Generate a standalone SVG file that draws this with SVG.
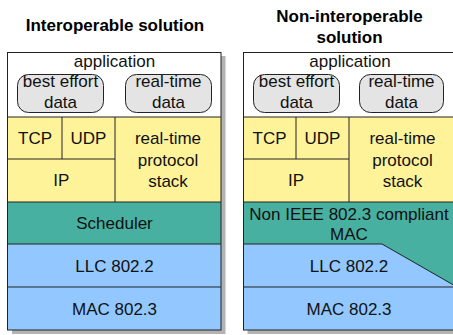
<svg xmlns="http://www.w3.org/2000/svg" width="453" height="335" viewBox="0 0 453 335">
<style>
.t{font-family:"Liberation Sans",Arial,sans-serif;font-size:17px;fill:#111;text-anchor:middle}
.h{font-family:"Liberation Sans",Arial,sans-serif;font-size:17px;font-weight:bold;fill:#000;text-anchor:middle}
.ln{stroke:#222;stroke-width:1;fill:none}
.app{fill:#fff}
.yl{fill:#fff39a}
.tl{fill:#48b0a0}
.bl{fill:#92c8ff}
.rb{fill:#e4e4e4;stroke:#222;stroke-width:1}
.sh{fill:#b3b3b3}
</style>
<rect width="453" height="335" fill="#fff"/>
<text class="h" x="115" y="31">Interoperable solution</text>
<text class="h" x="349.5" y="22">Non-interoperable</text>
<text class="h" x="349.5" y="43">solution</text>

<g id="left-stack">
<rect class="sh" x="12" y="56" width="213.5" height="278"/>
<rect class="app" x="7.5" y="52.5" width="213.5" height="64.5"/>
<rect class="yl" x="7.5" y="117" width="213.5" height="85"/>
<rect class="tl" x="7.5" y="202" width="213.5" height="42"/>
<rect class="bl" x="7.5" y="244" width="213.5" height="86"/>
<path class="ln" d="M7.5 117H221M62 117V159M115 117V202M7.5 159H115M7.5 202H221M7.5 244H221M7.5 287H221"/>
<rect class="ln" x="7.5" y="52.5" width="213.5" height="277.5"/>
<text class="t" x="114.5" y="67">application</text>
<g id="l-best"><rect class="rb" x="17.5" y="74.5" width="86" height="38" rx="11"/><text class="t" x="60.5" y="87">best effort</text><text class="t" x="60.5" y="108">data</text></g>
<g id="l-rt"><rect class="rb" x="125.5" y="74.5" width="86" height="38" rx="11"/><text class="t" x="168.5" y="87">real-time</text><text class="t" x="168.5" y="108">data</text></g>
<text class="t" x="35" y="144">TCP</text>
<text class="t" x="88.5" y="144">UDP</text>
<text class="t" x="61.3" y="186">IP</text>
<text class="t" x="168" y="144">real-time</text>
<text class="t" x="168" y="165.5">protocol</text>
<text class="t" x="168" y="186.5">stack</text>
<text class="t" x="114.5" y="229">Scheduler</text>
<text class="t" x="114.5" y="272">LLC 802.2</text>
<text class="t" x="114.5" y="314.5">MAC 802.3</text>
</g>

<g id="right-stack">
<rect class="sh" x="247.5" y="56" width="213.5" height="278"/>
<rect class="app" x="243.5" y="52.5" width="213.5" height="64.5"/>
<rect class="yl" x="243.5" y="117" width="213.5" height="85"/>
<rect class="bl" x="243.5" y="244" width="213.5" height="86"/>
<path class="tl" d="M243.5 202H457V287L382 244H243.5Z"/>
<path class="ln" d="M243.5 117H457M296 117V159M349 117V202M243.5 159H349M243.5 202H457M243.5 244H382L457 287M243.5 287H457"/>
<rect class="ln" x="243.5" y="52.5" width="213.5" height="277.5"/>
<text class="t" x="350" y="67">application</text>
<g id="r-best"><rect class="rb" x="253.5" y="74.5" width="86" height="38" rx="11"/><text class="t" x="296.5" y="87">best effort</text><text class="t" x="296.5" y="108">data</text></g>
<g id="r-rt"><rect class="rb" x="359.5" y="74.5" width="84" height="38" rx="11"/><text class="t" x="401.5" y="87">real-time</text><text class="t" x="401.5" y="108">data</text></g>
<text class="t" x="269.5" y="144">TCP</text>
<text class="t" x="322.5" y="144">UDP</text>
<text class="t" x="296" y="186">IP</text>
<text class="t" x="402.5" y="144">real-time</text>
<text class="t" x="402.5" y="165.5">protocol</text>
<text class="t" x="402.5" y="186.5">stack</text>
<text class="t" x="349" y="219.5">Non IEEE 802.3 compliant</text>
<text class="t" x="349" y="240">MAC</text>
<text class="t" x="349" y="272">LLC 802.2</text>
<text class="t" x="349" y="314.5">MAC 802.3</text>
</g>
</svg>
